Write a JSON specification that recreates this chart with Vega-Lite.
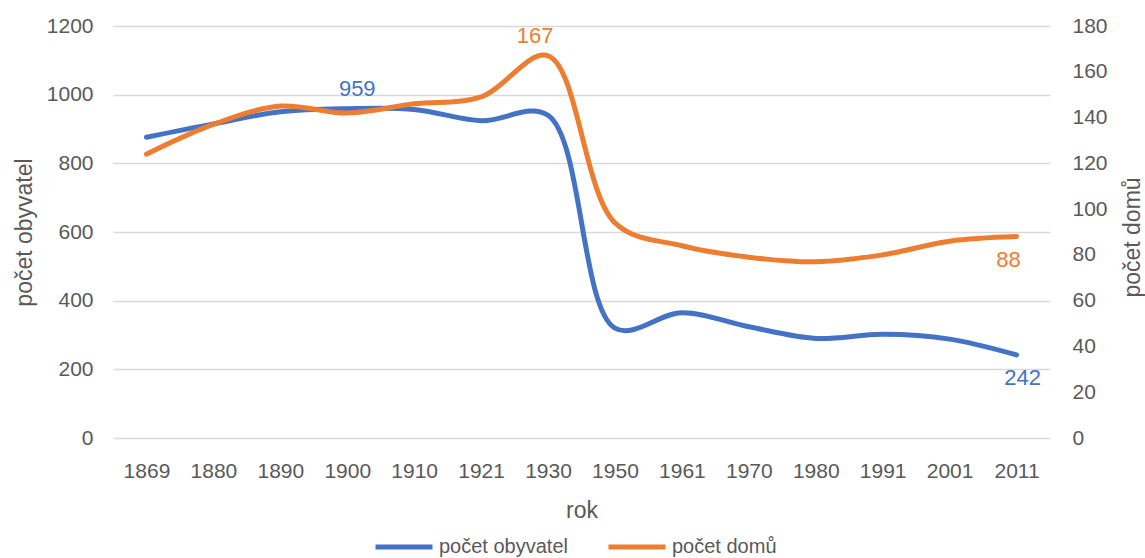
{
  "$schema": "https://vega.github.io/schema/vega-lite/v6.json",
  "width": 937,
  "height": 412,
  "autosize": "none",
  "padding": {"left": 113, "top": 26, "right": 95, "bottom": 120},
  "background": "white",
  "config": {
    "view": {"stroke": null},
    "font": "Liberation Sans",
    "axis": {"labelFont": "Liberation Sans", "titleFont": "Liberation Sans", "labelColor": "#595959", "titleColor": "#595959", "titleFontWeight": "normal", "domain": false, "ticks": false}
  },
  "data": {
    "values": [
      {"rok": "1869", "serie": "počet obyvatel", "hodnota": 876},
      {"rok": "1880", "serie": "počet obyvatel", "hodnota": 915},
      {"rok": "1890", "serie": "počet obyvatel", "hodnota": 950},
      {"rok": "1900", "serie": "počet obyvatel", "hodnota": 959},
      {"rok": "1910", "serie": "počet obyvatel", "hodnota": 957},
      {"rok": "1921", "serie": "počet obyvatel", "hodnota": 924},
      {"rok": "1930", "serie": "počet obyvatel", "hodnota": 940},
      {"rok": "1950", "serie": "počet obyvatel", "hodnota": 320},
      {"rok": "1961", "serie": "počet obyvatel", "hodnota": 365},
      {"rok": "1970", "serie": "počet obyvatel", "hodnota": 324},
      {"rok": "1980", "serie": "počet obyvatel", "hodnota": 290},
      {"rok": "1991", "serie": "počet obyvatel", "hodnota": 302},
      {"rok": "2001", "serie": "počet obyvatel", "hodnota": 288},
      {"rok": "2011", "serie": "počet obyvatel", "hodnota": 242},
      {"rok": "1869", "serie": "počet domů", "hodnota": 124},
      {"rok": "1880", "serie": "počet domů", "hodnota": 137},
      {"rok": "1890", "serie": "počet domů", "hodnota": 145},
      {"rok": "1900", "serie": "počet domů", "hodnota": 142},
      {"rok": "1910", "serie": "počet domů", "hodnota": 146},
      {"rok": "1921", "serie": "počet domů", "hodnota": 149},
      {"rok": "1930", "serie": "počet domů", "hodnota": 167},
      {"rok": "1950", "serie": "počet domů", "hodnota": 94},
      {"rok": "1961", "serie": "počet domů", "hodnota": 84},
      {"rok": "1970", "serie": "počet domů", "hodnota": 79},
      {"rok": "1980", "serie": "počet domů", "hodnota": 77},
      {"rok": "1991", "serie": "počet domů", "hodnota": 80},
      {"rok": "2001", "serie": "počet domů", "hodnota": 86},
      {"rok": "2011", "serie": "počet domů", "hodnota": 88}
    ]
  },
  "encoding": {
    "x": {
      "field": "rok",
      "type": "nominal",
      "sort": null,
      "scale": {"type": "point", "padding": 0.5},
      "axis": {"title": "rok", "labelAngle": 0, "labelFontSize": 21, "labelPadding": 22, "titleFontSize": 23, "titleY": 72, "titleBaseline": "middle", "grid": false}
    }
  },
  "layer": [
    {
      "transform": [{"filter": "datum.serie == 'počet obyvatel'"}],
      "encoding": {
        "y": {
          "field": "hodnota",
          "type": "quantitative",
          "scale": {"domain": [0, 1200], "nice": false},
          "axis": {"title": "počet obyvatel", "orient": "left", "format": "d", "values": [0, 200, 400, 600, 800, 1000, 1200], "labelFontSize": 21, "labelPadding": 20, "titleFontSize": 23, "titleX": -89, "titleY": 206, "titleBaseline": "middle", "grid": true, "gridColor": "#d9d9d9", "gridWidth": 1.5}
        }
      },
      "layer": [
        {
          "mark": {"type": "line", "interpolate": "catmull-rom", "strokeWidth": 5, "strokeCap": "round"},
          "encoding": {
            "color": {
              "field": "serie",
              "type": "nominal",
              "scale": {"domain": ["počet obyvatel", "počet domů"], "range": ["#4472C4", "#ED7D31"]},
              "legend": {"title": null, "orient": "none", "direction": "horizontal", "legendX": 260, "legendY": 490, "symbolType": "stroke", "symbolSize": 3249, "symbolStrokeWidth": 5, "labelFontSize": 20, "labelColor": "#595959", "labelFont": "Liberation Sans", "labelOffset": 4, "columnPadding": 30}
            }
          }
        },
        {
          "transform": [{"filter": "datum.rok == '1900'"}],
          "mark": {"type": "text", "fontSize": 22, "color": "#4472C4", "dy": -20, "dx": 10, "baseline": "middle"},
          "encoding": {"text": {"field": "hodnota", "type": "quantitative"}}
        },
        {
          "transform": [{"filter": "datum.rok == '2011'"}],
          "mark": {"type": "text", "fontSize": 22, "color": "#4472C4", "dy": 23, "dx": 6, "baseline": "middle"},
          "encoding": {"text": {"field": "hodnota", "type": "quantitative"}}
        }
      ]
    },
    {
      "transform": [{"filter": "datum.serie == 'počet domů'"}],
      "encoding": {
        "y": {
          "field": "hodnota",
          "type": "quantitative",
          "scale": {"domain": [0, 180], "nice": false},
          "axis": {"title": "počet domů", "orient": "right", "values": [0, 20, 40, 60, 80, 100, 120, 140, 160, 180], "labelFontSize": 21, "labelPadding": 22, "titleFontSize": 23, "titleAngle": -90, "titleX": 82, "titleY": 211, "titleBaseline": "middle", "grid": false}
        }
      },
      "layer": [
        {
          "mark": {"type": "line", "interpolate": "catmull-rom", "strokeWidth": 5, "strokeCap": "round"},
          "encoding": {
            "color": {"field": "serie", "type": "nominal"}
          }
        },
        {
          "transform": [{"filter": "datum.rok == '1930'"}],
          "mark": {"type": "text", "fontSize": 22, "color": "#ED7D31", "dy": -20, "dx": -13, "baseline": "middle"},
          "encoding": {"text": {"field": "hodnota", "type": "quantitative"}}
        },
        {
          "transform": [{"filter": "datum.rok == '2011'"}],
          "mark": {"type": "text", "fontSize": 22, "color": "#ED7D31", "dy": 23, "dx": -8, "baseline": "middle"},
          "encoding": {"text": {"field": "hodnota", "type": "quantitative"}}
        }
      ]
    }
  ],
  "resolve": {"scale": {"y": "independent"}}
}
